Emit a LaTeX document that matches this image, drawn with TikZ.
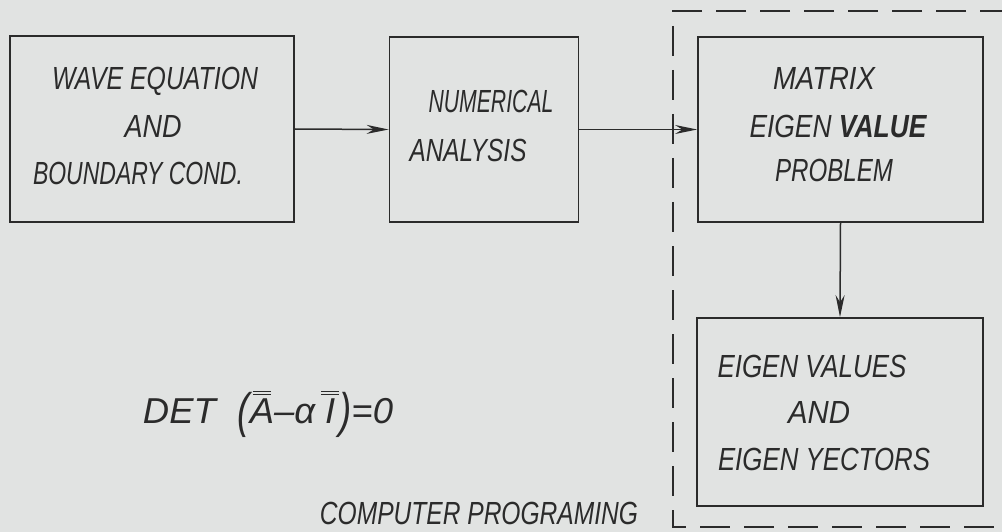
\documentclass[tikz,border=0pt]{standalone}
\usepackage{fontspec}
\usepackage{graphicx}
\setmainfont{Liberation Sans}
\usetikzlibrary{arrows.meta}
\definecolor{paper}{HTML}{E1E3E2}
\definecolor{ink}{HTML}{2B2B2B}
\newcommand\hw[2]{\resizebox{#1pt}{\height}{#2}}
\newcommand\twobar[1]{\leavevmode\vbox{\offinterlineskip\halign{\hfil##\hfil\cr\rule{0.5em}{1.3pt}\cr\noalign{\kern2pt}\rule{0.5em}{1.3pt}\cr\noalign{\kern3pt}\hbox{#1}\cr}}}
\tikzset{
  blk/.style={draw=ink, line width=1.8pt, inner sep=0pt},
  lbl/.style={anchor=base, inner sep=0pt, text=ink, font=\fontsize{32}{36}\selectfont\itshape},
  flow/.style={draw=ink, line width=1.5pt, -{Stealth[length=22pt,width=9pt]}},
  frame/.style={draw=ink, line width=1.8pt, dash pattern=on 30pt off 14pt}
}
\begin{document}
\begin{tikzpicture}[x=1pt,y=-1pt]
\fill[paper] (0,0) rectangle (1002,532);
\useasboundingbox (0,0) rectangle (1002,532);
\clip (0,0) rectangle (1002,532);
% boxes
\node[blk, minimum width=284pt, minimum height=186pt] (b1) at (152,129) {};
\node[blk, minimum width=189pt, minimum height=185pt] (b2) at (484,129.5) {};
\node[blk, minimum width=285pt, minimum height=185pt] (b3) at (840.5,129.5) {};
\node[blk, minimum width=286pt, minimum height=188pt] (b4) at (840,412) {};
% dashed frame
\coordinate (ftr) at (1010,11);
\coordinate (ftl) at (673,11);
\coordinate (fbl) at (673,527);
\coordinate (fbr) at (1010,527);
\draw[frame] (ftr) -- (ftl) -- (fbl) -- (fbr);
% texts
\node[lbl] (t1) at (155,90) {\hw{206}{WAVE EQUATION}};
\node[lbl] (t2) at (153,138) {\hw{57}{AND}};
\node[lbl] (t3) at (138,185) {\hw{210}{BOUNDARY COND.}};
\node[lbl] (t4) at (491,113) {\hw{125}{NUMERICAL}};
\node[lbl] (t5) at (468,162) {\hw{117}{ANALYSIS}};
\node[lbl] (t6) at (824,90) {\hw{102}{MATRIX}};
\node[lbl] (t7) at (838,138) {\hw{177}{EIGEN \textbf{VALUE}}};
\node[lbl] (t8) at (834,182) {\hw{118}{PROBLEM}};
\node[lbl] (t9) at (812,377) {\hw{189}{EIGEN VALUES}};
\node[lbl] (t10) at (819,423) {\hw{62}{AND}};
\node[lbl] (t11) at (824,470) {\hw{212}{EIGEN YECTORS}};
\node[lbl] (t12) at (479,524) {\hw{318}{COMPUTER PROGRAMING}};
\node[lbl, font=\fontsize{36}{40}\selectfont\itshape] (eq) at (268,423) {\hw{250}{DET\hspace{0.6em}\raisebox{-4pt}{\scalebox{1}[1.35]{(}}\twobar{A}–α\,\twobar{I}\raisebox{-4pt}{\scalebox{1}[1.35]{)}}=0}};
% connectors
\draw[flow] (b1.east) -- (b2.west);
\draw[flow] (b2.east) -- (b3.west);
\draw[flow] (b3.south) -- (b4.north);
\end{tikzpicture}
\end{document}
